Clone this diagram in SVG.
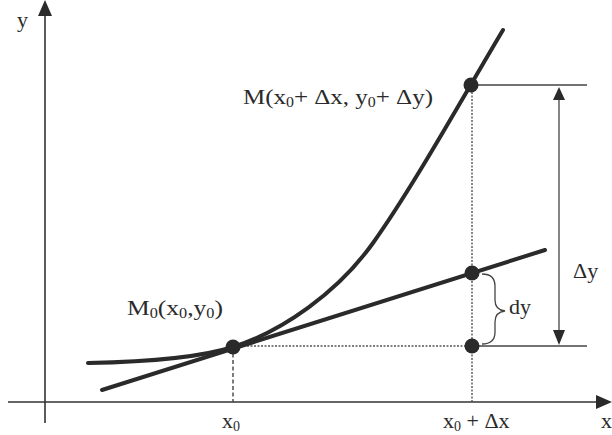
<svg xmlns="http://www.w3.org/2000/svg" width="612" height="435" viewBox="0 0 612 435">
<style>
.t{font-family:"Liberation Serif","Times New Roman",serif;font-size:22px;fill:#2a2a2a}
.s{font-size:14px}
.ax{stroke:#333;stroke-width:1.6;fill:none}
.thin{stroke:#444;stroke-width:1.3;fill:none}
.dot{stroke:#555;stroke-width:1.4;stroke-dasharray:2 1.5;fill:none}
.dash{stroke:#444;stroke-width:1.4;stroke-dasharray:4 2.5;fill:none}
.bold{stroke:#2a2a2a;stroke-width:4;fill:none;stroke-linecap:round}
.pt{fill:#2a2a2a}
.ah{fill:#2a2a2a}
</style>
<rect width="612" height="435" fill="#fff"/>
<g id="axes">
<line class="ax" x1="45" y1="10" x2="45" y2="423"/>
<polygon class="ah" points="45,0 38,16 52,16"/>
<line class="ax" x1="8" y1="402" x2="600" y2="402"/>
<polygon class="ah" points="612,402 596,395 596,409"/>
</g>
<g id="connectors">
<line class="dash" x1="233" y1="347" x2="233" y2="402"/>
<line class="dot" x1="472" y1="85" x2="472" y2="402"/>
<line class="dot" x1="233" y1="346" x2="472" y2="346"/>
<line class="thin" x1="472" y1="346" x2="587" y2="346"/>
<line class="thin" x1="471" y1="85" x2="587" y2="85"/>
<line class="thin" x1="559" y1="95" x2="559" y2="335"/>
<polygon class="ah" points="559,87 553,100 565,100"/>
<polygon class="ah" points="559,345 553,330 565,330"/>
<path class="thin" d="M482 274 Q495 274 495 286 L495 300 Q495 310 505 311 Q495 312 495 322 L495 332 Q495 344 482 344"/>
</g>
<g id="curve">
<path class="bold" d="M88 363 C140 362 200 357.5 233 347 C283 331 338 292 373 243 C413 187 463 97 503 30"/>
</g>
<g id="tangent">
<line class="bold" x1="102" y1="390" x2="545" y2="250"/>
</g>
<g id="points">
<circle class="pt" cx="233" cy="347" r="7.5"/>
<circle class="pt" cx="471" cy="85" r="7.5"/>
<circle class="pt" cx="472" cy="273" r="7.5"/>
<circle class="pt" cx="472" cy="346" r="7.5"/>
</g>
<g id="labels">
<text class="t" x="17" y="27">y</text>
<text class="t" x="601" y="428">x</text>
<text class="t" x="222" y="428">x<tspan class="s" dy="3">0</tspan></text>
<text class="t" x="443" y="428">x<tspan class="s" dy="3">0</tspan><tspan dy="-3"> + Δx</tspan></text>
<text class="t" x="127" y="315" textLength="96" lengthAdjust="spacingAndGlyphs">M<tspan class="s" dy="3">0</tspan><tspan dy="-3">(x</tspan><tspan class="s" dy="3">0</tspan><tspan dy="-3">,y</tspan><tspan class="s" dy="3">0</tspan><tspan dy="-3">)</tspan></text>
<text class="t" x="243" y="104" textLength="190" lengthAdjust="spacingAndGlyphs">M(x<tspan class="s" dy="3">0</tspan><tspan dy="-3">+ Δx, y</tspan><tspan class="s" dy="3">0</tspan><tspan dy="-3">+ Δy)</tspan></text>
<text class="t" x="573" y="278">Δy</text>
<text class="t" x="509" y="314">dy</text>
</g>
</svg>
